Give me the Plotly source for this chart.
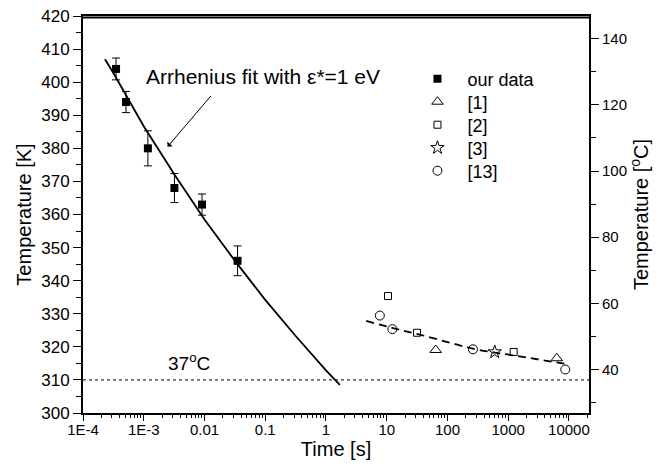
import plotly.graph_objects as go

# ---- data ----
our_time = [3.5e-4, 5.1e-4, 1.17e-3, 3.2e-3, 9.1e-3, 0.035]
our_temp_K = [404, 394, 380, 368, 363, 346]
our_err_K = [3.3, 3.2, 5.3, 4.4, 3.2, 4.5]

fit_time = [2.3e-4, 3.2e-4, 1e-3, 3.2e-3, 1e-2, 3.2e-2, 0.1, 0.32, 1.0, 1.69]
fit_temp_K = [406.9, 402.6, 386.7, 372.1, 358.5, 345.9, 334.2, 323.2, 312.9, 308.5]

ref1_time = [64, 6300]
ref1_temp_C = [45.9, 43.4]
ref2_time = [10.5, 31.6, 1230]
ref2_temp_C = [62.2, 51.1, 45.3]
ref3_time = [600]
ref3_temp_C = [45.3]
ref13_time = [7.7, 12.4, 263, 8700]
ref13_temp_C = [56.3, 52.2, 46.1, 40.0]

lit_fit_time = [4.6, 12.7, 31, 100, 263, 600, 1200, 3000, 9000]
lit_fit_temp_C = [54.7, 52.5, 50.8, 48.3, 46.3, 45.1, 44.3, 43.1, 41.7]

body_temp_K = 310
k_range = [300, 420]
kelvin_offset = 273.15

x_tick_vals = [1e-4, 1e-3, 1e-2, 1e-1, 1, 10, 100, 1000, 10000]
x_tick_text = ["1E-4", "1E-3", "0.01", "0.1", "1", "10", "100", "1000", "10000"]

legend_names = ["our data", "[1]", "[2]", "[3]", "[13]"]

FONT = "Liberation Sans, Arial, sans-serif"
PAD = "\u00a0\u00a0"  # gap between legend symbol and text

fig = go.Figure()

fig.add_trace(go.Scatter(
    x=fit_time, y=fit_temp_K, mode="lines", line=dict(color="black", width=1.8),
    showlegend=False, hoverinfo="skip"))

fig.add_trace(go.Scatter(
    x=lit_fit_time, y=lit_fit_temp_C, yaxis="y2", mode="lines", line_shape="spline",
    line=dict(color="black", width=1.8, dash="8px,5px"), showlegend=False, hoverinfo="skip"))

fig.add_trace(go.Scatter(
    x=our_time, y=our_temp_K, mode="markers", name=PAD + legend_names[0], legend="legend",
    marker=dict(symbol="square", size=8, color="black"),
    error_y=dict(type="data", array=our_err_K, color="black", thickness=1, width=4)))

fig.add_trace(go.Scatter(
    x=ref1_time, y=ref1_temp_C, yaxis="y2", mode="markers", name=PAD + legend_names[1],
    legend="legend2",
    marker=dict(symbol="triangle-up-open", size=10, color="black", line=dict(width=1))))
fig.add_trace(go.Scatter(
    x=ref2_time, y=ref2_temp_C, yaxis="y2", mode="markers", name=PAD + legend_names[2],
    legend="legend3",
    marker=dict(symbol="square-open", size=7, color="black", line=dict(width=1))))
fig.add_trace(go.Scatter(
    x=ref3_time, y=ref3_temp_C, yaxis="y2", mode="markers", name=PAD + legend_names[3],
    legend="legend4",
    marker=dict(symbol="star-open", size=10, color="black", line=dict(width=1))))
fig.add_trace(go.Scatter(
    x=ref13_time, y=ref13_temp_C, yaxis="y2", mode="markers", name=PAD + legend_names[4],
    legend="legend5",
    marker=dict(symbol="circle-open", size=9, color="black", line=dict(width=1))))

# 37 °C line
fig.add_shape(type="line", xref="paper", x0=0, x1=1, yref="y", y0=body_temp_K, y1=body_temp_K,
              line=dict(color="black", width=1, dash="3px,3px"))
# top frame line, drawn just inside the top edge of the plot box
fig.add_shape(type="line", xref="paper", x0=0, x1=1, yref="paper", y0=0.9965, y1=0.9965,
              layer="above", line=dict(color="black", width=2))

minor_x = [m * 10 ** e for e in range(-4, 5) for m in range(2, 10)]


def legend_at(yc):
    return dict(x=0.661, y=yc, xanchor="left", yanchor="middle",
                bgcolor="rgba(0,0,0,0)", font=dict(size=18))


fig.update_layout(
    width=663, height=469,
    margin=dict(l=83, r=74, t=16, b=56, autoexpand=False),
    paper_bgcolor="white", plot_bgcolor="white",
    font=dict(family=FONT, size=17, color="black"),
    xaxis=dict(
        type="log", range=[-4, 4.33], automargin=False,
        tickmode="array", tickvals=x_tick_vals, ticktext=x_tick_text,
        ticks="outside", ticklen=6, tickwidth=1.2, tickcolor="black",
        ticklabelstandoff=-4,
        minor=dict(tickmode="array", tickvals=minor_x, ticks="outside", ticklen=3,
                   tickwidth=1, tickcolor="black", showgrid=False),
        showline=True, linewidth=2, linecolor="black", mirror=True,
        showgrid=False, zeroline=False,
        tickfont=dict(size=15),
        title=dict(text="Time [s]", font=dict(size=20), standoff=0),
    ),
    yaxis=dict(
        range=k_range, dtick=10, tick0=300, automargin=False,
        ticks="outside", ticklen=8, tickwidth=1.2, tickcolor="black",
        minor=dict(dtick=5, ticks="outside", ticklen=5, tickwidth=1, tickcolor="black", showgrid=False),
        showline=True, linewidth=2, linecolor="black",
        showgrid=False, zeroline=False,
        tickfont=dict(size=17),
        title=dict(text="Temperature [K]", font=dict(size=20), standoff=4),
    ),
    yaxis2=dict(
        overlaying="y", side="right", automargin=False,
        range=[k_range[0] - kelvin_offset, k_range[1] - kelvin_offset],
        dtick=20, tick0=0,
        ticks="outside", ticklen=8, tickwidth=1.2, tickcolor="black",
        minor=dict(dtick=10, ticks="outside", ticklen=5, tickwidth=1, tickcolor="black", showgrid=False),
        showline=True, linewidth=2, linecolor="black",
        showgrid=False, zeroline=False,
        tickfont=dict(size=15),
        title=dict(text="Temperature [<sup>o</sup>C]", font=dict(size=20), standoff=7),
    ),
    legend=legend_at(0.8413),
    legend2=legend_at(0.7834),
    legend3=legend_at(0.7254),
    legend4=legend_at(0.6675),
    legend5=legend_at(0.6096),
    showlegend=True,
)

fig.add_annotation(x=-3.0, y=401.6, xref="x", yref="y", text="Arrhenius fit with \u03b5*=1 eV",
                   showarrow=False, xanchor="left", yanchor="middle", font=dict(size=21))
fig.add_annotation(x=-2.607, y=380.5, xref="x", yref="y", ax=-1.873, ay=396.3,
                   axref="x", ayref="y", text="", showarrow=True,
                   arrowhead=1, arrowsize=1.2, arrowwidth=1, arrowcolor="black")
fig.add_annotation(x=-2.257, y=315.5, xref="x", yref="y", text="37<sup>o</sup>C",
                   showarrow=False, xanchor="center", yanchor="middle", font=dict(size=19))

fig.write_html("out.html", config={"displayModeBar": False},
               post_script="document.body.style.margin='0px';")
